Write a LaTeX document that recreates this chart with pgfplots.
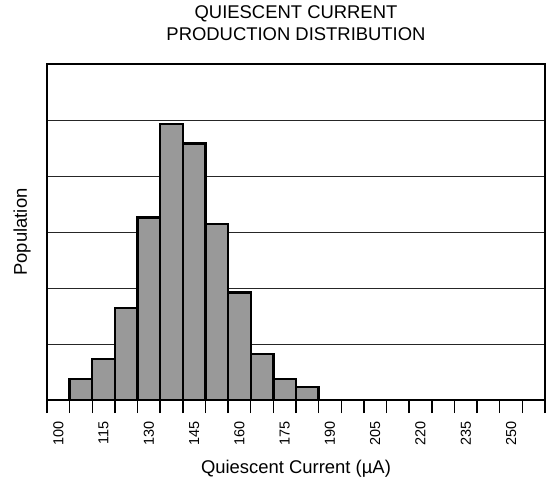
\documentclass[border=0pt]{standalone}
\usepackage{pgfplots}
\pgfplotsset{compat=1.18}
\usepackage{fontspec}
\setmainfont{Liberation Sans}
\begin{document}
\begin{tikzpicture}
\begin{axis}[
  scale only axis, width=498bp, height=336bp,
  xmin=96.25, xmax=261.25, ymin=0, ymax=6,
  axis line style={line width=2.4pt},
  xtick={100,115,130,145,160,175,190,205,220,235,250},
  xticklabel style={rotate=90, anchor=east, font=\fontsize{14.5}{14.5}\selectfont, inner sep=1bp},
  /pgf/number format/assume math mode=true,
  major x tick style={draw=none},
  minor xtick={96.25,103.75,111.25,118.75,126.25,133.75,141.25,148.75,156.25,163.75,171.25,178.75,186.25,193.75,201.25,208.75,216.25,223.75,231.25,238.75,246.25,253.75,261.25},
  minor x tick style={black, line width=1.5pt},
  minor tick length=13bp, major tick length=20bp,
  xtick pos=bottom, tick align=outside,
  ytick={1,2,3,4,5}, yticklabels={}, ymajorgrids,
  major y tick style={draw=none},
  y grid style={black!85, line width=0.8pt},
  xlabel={Quiescent Current (µA)},
  xlabel style={at={(axis description cs:0.5,0)}, anchor=base, yshift=-73bp, inner sep=0pt, font=\fontsize{18.5}{18.5}\selectfont},
  ylabel={Population},
  every axis y label/.style={at={(axis description cs:-0.0502,0.5)}, anchor=center, rotate=90, font=\fontsize{18.5}{18.5}\selectfont},
  title={QUIESCENT CURRENT\\PRODUCTION DISTRIBUTION},
  title style={at={(axis description cs:0.5,1)}, anchor=south, yshift=17.3bp, inner sep=0pt, align=center, font=\fontsize{18.5}{21.7}\selectfont},
]
\addplot[ybar interval, fill=black!40, draw=black, line width=2.4pt] coordinates {
(103.75,0.375)(111.25,0.73)(118.75,1.64)(126.25,3.26)(133.75,4.93)(141.25,4.58)(148.75,3.14)(156.25,1.92)(163.75,0.82)(171.25,0.375)(178.75,0.23)(186.25,0.23)
};
\end{axis}
\pgfresetboundingbox
\path[use as bounding box] (-47bp,-78bp) rectangle (509bp,400bp);
\end{tikzpicture}
\end{document}
